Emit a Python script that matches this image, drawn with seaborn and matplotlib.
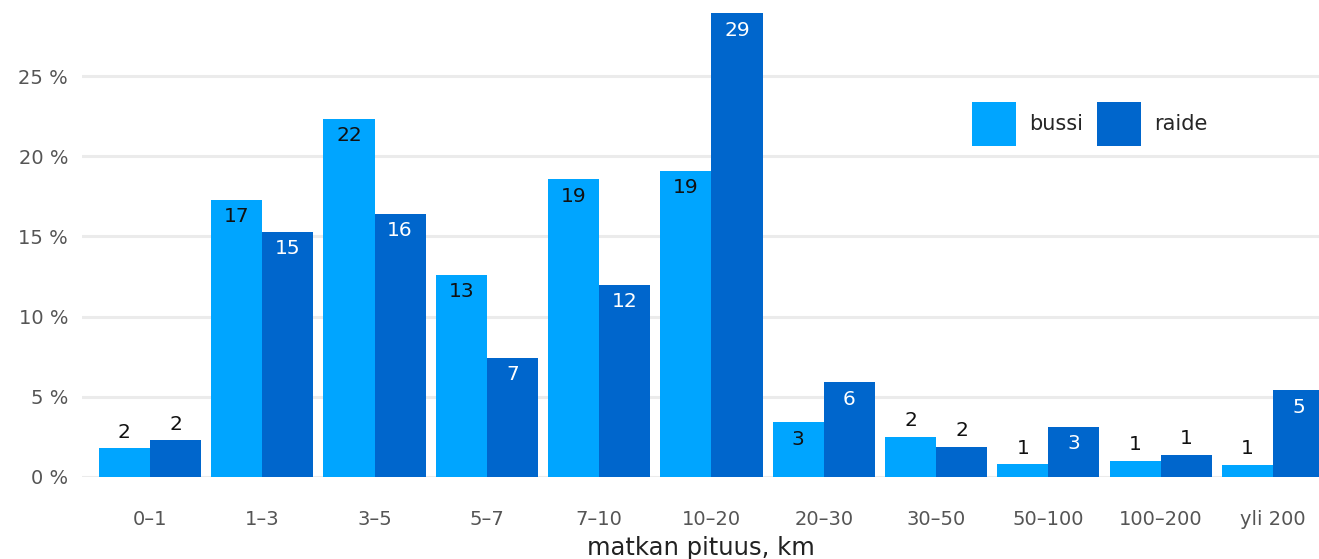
import pandas as pd
import matplotlib.pyplot as plt
import seaborn as sns

# --- DATA ---
categories = ['0–1', '1–3', '3–5', '5–7', '7–10', '10–20', '20–30',
              '30–50', '50–100', '100–200', 'yli 200']
bussi = [1.8, 17.3, 22.3, 12.6, 18.55, 19.1, 3.4, 2.5, 0.8, 1.0, 0.75]
raide = [2.3, 15.3, 16.4, 7.45, 12.0, 28.9, 5.9, 1.9, 3.1, 1.4, 5.4]
series = ['bussi', 'raide']
colors = {'bussi': '#00A5FF', 'raide': '#0066CC'}
y_ticks = [0, 5, 10, 15, 20, 25]


def main():
    df = pd.DataFrame({
        'matka': categories * 2,
        'osuus': bussi + raide,
        'tyyppi': ['bussi'] * len(categories) + ['raide'] * len(categories),
    })

    sns.set_style('white')
    plt.rcParams['font.family'] = ['DejaVu Sans']

    fig = plt.figure(figsize=(13.19, 5.59), dpi=100)
    ax = fig.add_axes([0.0622, 0.1467, 0.9378, 0.8533])

    sns.barplot(data=df, x='matka', y='osuus', hue='tyyppi', order=categories,
                hue_order=series, palette=colors, width=0.91, gap=0,
                saturation=1, linewidth=0, ax=ax, zorder=3)

    # arvot pylväisiin: sisään isoille, päälle pienille
    for cont, name in zip(ax.containers, series):
        for bar in cont:
            h = bar.get_height()
            x = bar.get_x() + bar.get_width() / 2
            txt = f'{h:.0f}'
            if h >= 3:
                col = 'white' if name == 'raide' else '#111111'
                ax.annotate(txt, (x, h), xytext=(0, -12), textcoords='offset points',
                            ha='center', va='center', fontsize=14.5, color=col, zorder=4)
            else:
                ax.annotate(txt, (x, h), xytext=(0, 11.5), textcoords='offset points',
                            ha='center', va='center', fontsize=14.5, color='#111111', zorder=4)

    ax.set_xlim(-0.605, 10.41)
    ax.set_ylim(0, 29.74)
    ax.set_yticks(y_ticks)
    ax.set_yticklabels([f'{t} %' for t in y_ticks])
    ax.yaxis.grid(True, color='#EBEBEB', linewidth=2.2, zorder=0)
    ax.xaxis.grid(False)
    for s in ax.spines.values():
        s.set_visible(False)
    ax.tick_params(axis='y', length=0, pad=10, labelsize=14, labelcolor='#555555')
    ax.tick_params(axis='x', length=0, pad=24, labelsize=14, labelcolor='#555555')
    ax.set_ylabel('')
    # akselin nimi niin alas kuin mahtuu
    ax.set_xlabel('matkan pituus, km', fontsize=17.5, color='#222222', labelpad=4.5)

    handles, labels = ax.get_legend_handles_labels()
    ax.legend(handles, labels, ncol=2, loc='upper left', bbox_to_anchor=(0.7195, 0.786),
              frameon=False, fontsize=15, handlelength=2.1, handleheight=2.9,
              handletextpad=0.65, columnspacing=0.65, borderaxespad=0, borderpad=0)

    fig.savefig('out.png', dpi=100)
    plt.close(fig)


if __name__ == '__main__':
    main()
